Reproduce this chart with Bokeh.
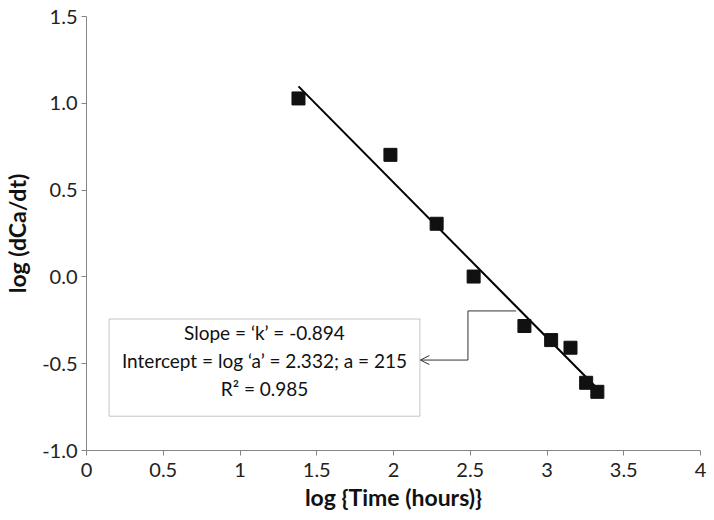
from bokeh.plotting import figure
from bokeh.models import Range1d, BoxAnnotation, Label, Arrow, OpenHead, FixedTicker
from bokeh.embed import file_html
from bokeh.resources import INLINE

# data
log_time = [1.381, 1.980, 2.281, 2.522, 2.853, 3.027, 3.153, 3.255, 3.328]
log_rate = [1.028, 0.703, 0.306, 0.002, -0.283, -0.364, -0.408, -0.610, -0.662]
slope = -0.894
intercept = 2.332
x_ticks = [0, 0.5, 1, 1.5, 2, 2.5, 3, 3.5, 4]
y_ticks = [-1.0, -0.5, 0.0, 0.5, 1.0, 1.5]
box_lines = ["Slope = \u2018k\u2019 = -0.894",
             "Intercept = log \u2018a\u2019 = 2.332; a = 215",
             "R\u00b2 = 0.985"]

FONT = "Lato"
p = figure(width=714, height=513, output_backend="svg", toolbar_location=None,
           x_range=Range1d(0, 4), y_range=Range1d(-1.0, 1.5),
           min_border_left=86, min_border_right=14, min_border_top=16, min_border_bottom=61)
p.outline_line_color = None
p.xgrid.visible = False
p.ygrid.visible = False

for ax in (p.xaxis[0], p.yaxis[0]):
    ax.axis_line_color = "#868686"
    ax.major_tick_line_color = "#868686"
    ax.major_tick_out = 5
    ax.major_tick_in = 0
    ax.minor_tick_line_color = None
    ax.major_label_text_font = FONT
    ax.major_label_text_font_size = "20px"
    ax.major_label_text_color = "#222222"
    ax.axis_label_text_font = FONT
    ax.axis_label_text_font_style = "bold"
    ax.axis_label_text_font_size = "23px"
    ax.axis_label_text_color = "#111111"

p.xaxis.ticker = FixedTicker(ticks=x_ticks)
p.yaxis.ticker = FixedTicker(ticks=y_ticks)
p.xaxis.major_label_overrides = {t: ("%g" % t) for t in x_ticks}
p.yaxis.major_label_overrides = {t: ("%.1f" % t) for t in y_ticks}
p.xaxis.axis_label = "log {Time (hours)}"
p.yaxis.axis_label = "log (dCa/dt)"
p.xaxis.major_label_standoff = 7
p.yaxis.major_label_standoff = 4
p.xaxis.axis_label_standoff = 3
p.yaxis.axis_label_standoff = 8

# trendline
x0, x1 = min(log_time), max(log_time)
p.line([x0, x1], [intercept + slope * x0, intercept + slope * x1],
       line_color="black", line_width=2)

p.scatter(log_time, log_rate, marker="square", size=13,
          fill_color="#111111", line_color="#111111")

# annotation box
box = BoxAnnotation(left=0.147, right=2.172, top=-0.2425, bottom=-0.8025,
                    fill_color="white", fill_alpha=1.0,
                    line_color="#404040", line_width=1)
p.add_layout(box)
for i, t in enumerate(box_lines):
    p.add_layout(Label(x=1.16, y=-0.323 - 0.16 * i, text=t, text_font=FONT,
                       text_font_size="19px", text_align="center",
                       text_baseline="middle", text_color="#111111"))

# connector
p.line([2.799, 2.485, 2.485], [-0.196, -0.196, -0.479], line_color="#333333", line_width=1)
p.add_layout(Arrow(x_start=2.485, y_start=-0.479, x_end=2.175, y_end=-0.479,
                   line_color="#333333", line_width=1,
                   end=OpenHead(size=9, line_color="#333333", line_width=1)))

open("out.html", "w").write(file_html(p, INLINE))
